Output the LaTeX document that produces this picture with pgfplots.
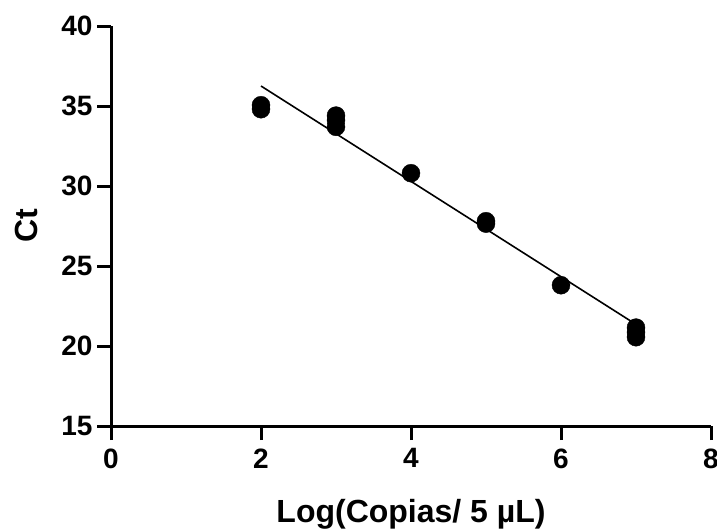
\documentclass[border=0pt]{standalone}
\usepackage{pgfplots}
\pgfplotsset{compat=1.18}
\usepackage{fontspec}
\setmainfont{Liberation Sans}
\begin{document}
\begin{tikzpicture}
\begin{axis}[
  scale only axis,
  width=600pt, height=400pt,
  at={(111pt,105pt)}, anchor=south west,
  xmin=0, xmax=8, ymin=15, ymax=40,
  axis x line*=bottom, axis y line*=left,
  axis line style={line width=3pt, -},
  xtick={0,2,4,6,8}, ytick={15,20,25,30,35,40},
  tick align=outside,
  major tick length=14pt,
  every tick/.style={line width=3pt, black},
  /pgf/number format/assume math mode=true,
  tick label style={font=\fontsize{28}{28}\selectfont\bfseries},
  yticklabel style={xshift=-1pt},
  xticklabel style={yshift=-5pt},
  xlabel={Log(Copias/ 5 µL)},
  ylabel={Ct},
  label style={font=\fontsize{32}{32}\selectfont\bfseries},
  xlabel style={at={(axis description cs:0.5,-0.24)}, anchor=base},
  ylabel style={at={(axis description cs:-0.123,0.5)}, anchor=base, rotate=0},
  clip=false,
]
\addplot[black, line width=1.6pt, no marks] coordinates {(2,36.25) (7,21.35)};
\addplot[only marks, mark=*, mark size=9pt, black] coordinates {
(2,35.05) (2,34.8)
(3,34.4) (3,34.1) (3,33.7)
(4,30.8)
(5,27.8) (5,27.65)
(6,23.8)
(7,21.15) (7,20.85) (7,20.55)
};
\end{axis}
\pgfresetboundingbox
\path[use as bounding box] (0,0) rectangle (717pt,531pt);
\end{tikzpicture}
\end{document}
